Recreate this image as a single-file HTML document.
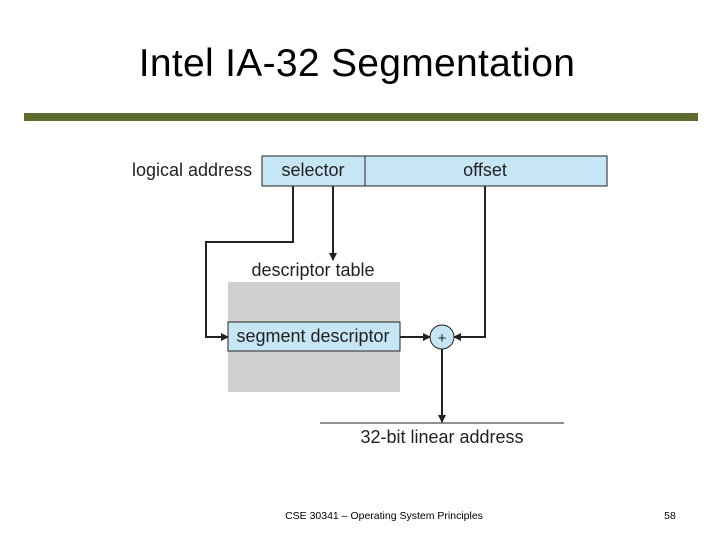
<!DOCTYPE html>
<html><head><style>
body{margin:0;width:720px;height:540px;background:#fff;position:relative;overflow:hidden;font-family:"Liberation Sans",sans-serif}
</style></head><body>
<div style="position:absolute;left:-3px;width:720px;top:42px;text-align:center;font-size:39px;color:#000;letter-spacing:0.3px">Intel IA-32 Segmentation</div>
<div style="position:absolute;left:24px;top:113px;width:674px;height:8px;background:#5e6b2f"></div>
<svg width="720" height="540" style="position:absolute;left:0;top:0" font-family="Liberation Sans, sans-serif">
<defs><marker id="a" markerWidth="8" markerHeight="8" refX="7" refY="4" orient="auto" markerUnits="userSpaceOnUse"><path d="M0,0L8,4L0,8z" fill="#222"/></marker></defs>
<text x="132" y="176" font-size="18" fill="#222">logical address</text>
<rect x="262" y="156" width="345" height="30" fill="#c6e6f6" stroke="#222"/>
<line x1="365" y1="156" x2="365" y2="186" stroke="#222"/>
<text x="313" y="176" font-size="18" text-anchor="middle" fill="#222">selector</text>
<text x="485" y="176" font-size="18" text-anchor="middle" fill="#222">offset</text>
<polyline points="293,186 293,242 206,242 206,337 228,337" fill="none" stroke="#222" stroke-width="2" marker-end="url(#a)"/>
<line x1="333" y1="186" x2="333" y2="260" stroke="#222" stroke-width="2" marker-end="url(#a)"/>
<text x="313" y="276" font-size="18" text-anchor="middle" fill="#222">descriptor table</text>
<rect x="228" y="282" width="172" height="110" fill="#d0d0d0"/>
<rect x="228" y="322" width="172" height="29" fill="#c6e6f6" stroke="#222"/>
<text x="313" y="342" font-size="18" text-anchor="middle" fill="#222">segment descriptor</text>
<line x1="400" y1="337" x2="430" y2="337" stroke="#222" stroke-width="2" marker-end="url(#a)"/>
<polyline points="485,186 485,337 454,337" fill="none" stroke="#222" stroke-width="2" marker-end="url(#a)"/>
<circle cx="442" cy="337" r="12" fill="#c6e6f6" stroke="#222"/>
<text x="442" y="343" font-size="15" text-anchor="middle" fill="#222">+</text>
<line x1="442" y1="349" x2="442" y2="422" stroke="#222" stroke-width="2" marker-end="url(#a)"/>
<line x1="320" y1="423" x2="564" y2="423" stroke="#222"/>
<text x="442" y="443" font-size="18" text-anchor="middle" fill="#222">32-bit linear address</text>
<text x="384" y="519" font-size="10.5" text-anchor="middle" fill="#000">CSE 30341 – Operating System Principles</text>
<text x="670" y="519" font-size="10.5" text-anchor="middle" fill="#000">58</text>
</svg>
</body></html>
